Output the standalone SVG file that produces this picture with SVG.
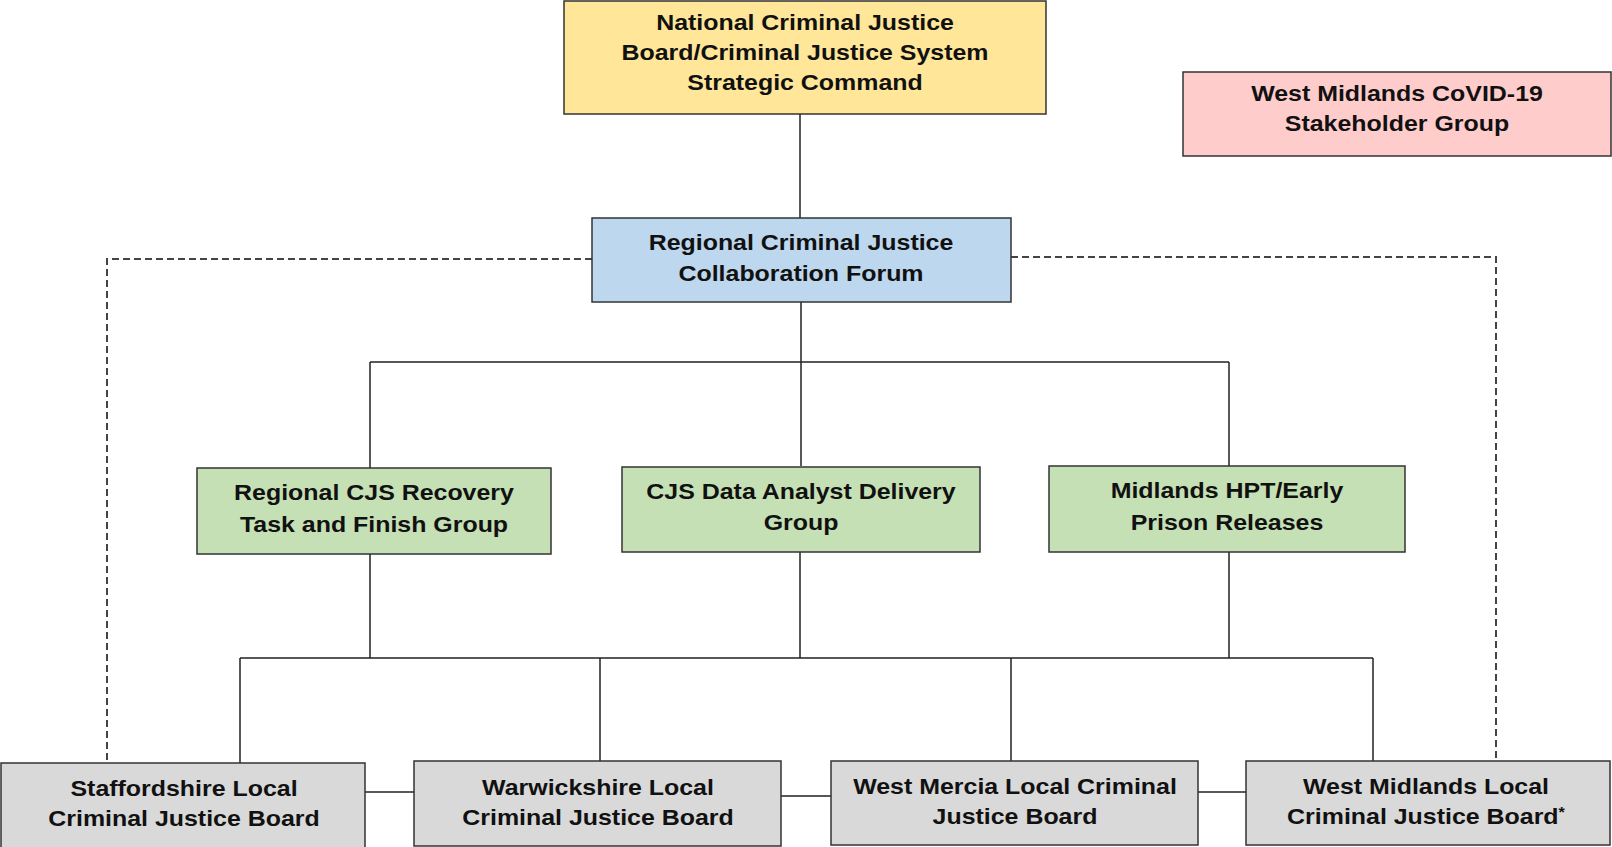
<svg xmlns="http://www.w3.org/2000/svg" width="1612" height="847" viewBox="0 0 1612 847">
<style>
.box{stroke:#333;stroke-width:1.5}
.t{font-family:"Liberation Sans",Arial,sans-serif;font-weight:bold;font-size:21.5px;fill:#111;text-anchor:middle}
.ln{fill:none;stroke:#222;stroke-width:1.5}
.dash{fill:none;stroke:#444;stroke-width:2;stroke-dasharray:7,4}
</style>
<rect width="1612" height="847" fill="#fff"/>
<g id="connectors">
<path class="ln" d="M800 114V218"/>
<path class="ln" d="M801 302V362M370 362H1229M370 362V468M801 362V466M1229 362V466"/>
<path class="ln" d="M370 554V658M800 552V658M1229 552V658M240 658H1373M240 658V763M600 658V761M1011 658V761M1373 658V761"/>
<path class="ln" d="M365 792H414M781 796H831M1198 792H1246"/>
<path class="dash" d="M592 259H107V762"/>
<path class="dash" d="M1011 257H1496V762"/>
</g>
<g id="national">
<rect class="box" x="564" y="1" width="482" height="113" fill="#FFE699"/>
<text class="t" transform="matrix(1.16 0 0 1 805 0)"><tspan x="0" y="30">National Criminal Justice</tspan><tspan x="0" y="60">Board/Criminal Justice System</tspan><tspan x="0" y="90">Strategic Command</tspan></text>
</g>
<g id="stakeholder">
<rect class="box" x="1183" y="72" width="428" height="84" fill="#FFCCCC"/>
<text class="t" transform="matrix(1.16 0 0 1 1397 0)"><tspan x="0" y="101">West Midlands CoVID-19</tspan><tspan x="0" y="131">Stakeholder Group</tspan></text>
</g>
<g id="forum">
<rect class="box" x="592" y="218" width="419" height="84" fill="#BDD7EE"/>
<text class="t" transform="matrix(1.16 0 0 1 801 0)"><tspan x="0" y="250">Regional Criminal Justice</tspan><tspan x="0" y="281">Collaboration Forum</tspan></text>
</g>
<g id="recovery">
<rect class="box" x="197" y="468" width="354" height="86" fill="#C5E0B4"/>
<text class="t" transform="matrix(1.16 0 0 1 374 0)"><tspan x="0" y="500">Regional CJS Recovery</tspan><tspan x="0" y="532">Task and Finish Group</tspan></text>
</g>
<g id="analyst">
<rect class="box" x="622" y="467" width="358" height="85" fill="#C5E0B4"/>
<text class="t" transform="matrix(1.16 0 0 1 801 0)"><tspan x="0" y="499">CJS Data Analyst Delivery</tspan><tspan x="0" y="530">Group</tspan></text>
</g>
<g id="hpt">
<rect class="box" x="1049" y="466" width="356" height="86" fill="#C5E0B4"/>
<text class="t" transform="matrix(1.16 0 0 1 1227 0)"><tspan x="0" y="498">Midlands HPT/Early</tspan><tspan x="0" y="530">Prison Releases</tspan></text>
</g>
<g id="staffordshire">
<rect class="box" x="1" y="763" width="364" height="90" fill="#D9D9D9"/>
<text class="t" transform="matrix(1.16 0 0 1 184 0)"><tspan x="0" y="796">Staffordshire Local</tspan><tspan x="0" y="826">Criminal Justice Board</tspan></text>
</g>
<g id="warwickshire">
<rect class="box" x="414" y="761" width="367" height="85" fill="#D9D9D9"/>
<text class="t" transform="matrix(1.16 0 0 1 598 0)"><tspan x="0" y="795">Warwickshire Local</tspan><tspan x="0" y="825">Criminal Justice Board</tspan></text>
</g>
<g id="westmercia">
<rect class="box" x="831" y="761" width="367" height="84" fill="#D9D9D9"/>
<text class="t" transform="matrix(1.16 0 0 1 1015 0)"><tspan x="0" y="794">West Mercia Local Criminal</tspan><tspan x="0" y="824">Justice Board</tspan></text>
</g>
<g id="westmidlands">
<rect class="box" x="1246" y="761" width="364" height="84" fill="#D9D9D9"/>
<text class="t" transform="matrix(1.16 0 0 1 1426 0)"><tspan x="0" y="794">West Midlands Local</tspan><tspan x="0" y="824">Criminal Justice Board<tspan font-size="14" dy="-7">*</tspan></tspan></text>
</g>
</svg>
